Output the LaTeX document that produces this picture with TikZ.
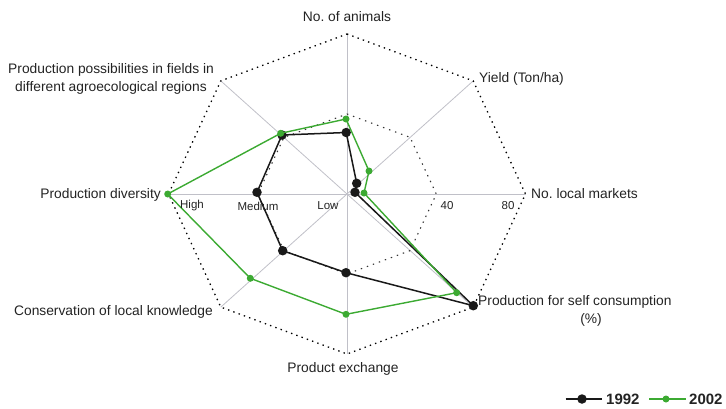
\documentclass[tikz,border=0pt]{standalone}
\usepackage{fontspec}
\setmainfont{Liberation Sans}
\frenchspacing
\definecolor{axisgray}{RGB}{192,192,200}
\definecolor{sergreen}{RGB}{60,170,50}
\definecolor{txt}{RGB}{35,35,35}
\begin{document}
\begin{tikzpicture}[x=1pt,y=-1pt,
  axisline/.style={draw=axisgray,line width=0.8pt},
  outergrid/.style={draw=black,line width=1.3pt,dash pattern=on 1.4pt off 4.2pt},
  innergrid/.style={draw=black!80,line width=1.1pt,dash pattern=on 1.4pt off 5pt},
  lbl/.style={font=\fontsize{13.8}{16}\selectfont,text=txt,inner sep=0pt},
  scl/.style={font=\fontsize{11.5}{14}\selectfont,text=txt,inner sep=0pt},
  leg/.style={font=\fontsize{15}{17}\selectfont\bfseries,text=txt,inner sep=0pt,anchor=west},
  blackser/.style={draw=black!90,line width=1.5pt,line join=round},
  greenser/.style={draw=sergreen,line width=1.4pt,line join=round},
  bdot/.style={circle,fill=black!90,inner sep=0pt,minimum size=9.5pt},
  gdot/.style={circle,fill=sergreen,inner sep=0pt,minimum size=7pt}
]
\useasboundingbox (0,0) rectangle (726,408);
% center and axis ends
\coordinate (C) at (347,194);
\coordinate (A1) at (347,34);
\coordinate (A2) at (473.2,80.9);
\coordinate (A3) at (525.5,194);
\coordinate (A4) at (473.2,307.1);
\coordinate (A5) at (347,354);
\coordinate (A6) at (220.8,307.1);
\coordinate (A7) at (168.5,194);
\coordinate (A8) at (220.8,80.9);
% half-radius points
\coordinate (H1) at (347,114);
\coordinate (H2) at (410.1,137.4);
\coordinate (H3) at (436.3,194);
\coordinate (H4) at (410.1,250.6);
\coordinate (H5) at (347,274);
\coordinate (H6) at (283.9,250.6);
\coordinate (H7) at (257.8,194);
\coordinate (H8) at (283.9,137.4);
% axes
\foreach \i in {1,...,8} \draw[axisline] (C) -- (A\i);
% grid polygons
\draw[outergrid] (A1) -- (A2) -- (A3) -- (A4) -- (A5) -- (A6) -- (A7) -- (A8) -- cycle;
\draw[innergrid] (H1) -- (H2) -- (H3) -- (H4) -- (H5) -- (H6) -- (H7) -- (H8) -- cycle;
% data 1992
\coordinate (b1) at (346.2,132.5);
\coordinate (b2) at (356.7,183.3);
\coordinate (b3) at (355,192.3);
\coordinate (b4) at (473.3,305.7);
\coordinate (b5) at (346,272.7);
\coordinate (b6) at (282.7,250.7);
\coordinate (b7) at (257,192.3);
\coordinate (b8) at (282,135);
% data 2002
\coordinate (g1) at (346,119);
\coordinate (g2) at (369,171);
\coordinate (g3) at (364,193);
\coordinate (g4) at (456.7,292.7);
\coordinate (g5) at (346,314.3);
\coordinate (g6) at (250.3,278.3);
\coordinate (g7) at (167.7,194);
\coordinate (g8) at (280.7,133.3);
\draw[blackser] (b1) -- (b2) -- (b3) -- (b4) -- (b5) -- (b6) -- (b7) -- (b8) -- cycle;
\foreach \i in {1,...,8} \node[bdot] (B\i) at (b\i) {};
\draw[greenser] (g1) -- (g2) -- (g3) -- (g4) -- (g5) -- (g6) -- (g7) -- (g8) -- cycle;
\foreach \i in {1,...,8} \node[gdot] (G\i) at (g\i) {};
% axis labels
\node[lbl] (l1) at (347,17) {No. of animals};
\node[lbl,anchor=west] (l2) at (479,79) {Yield (Ton/ha)};
\node[lbl,anchor=west] (l3) at (531,194) {No. local markets};
\node[lbl,anchor=west] (l4) at (478,301.5) {Production for self consumption};
\node[lbl] (l4b) at (591,320) {(\%)};
\node[lbl] (l5) at (343,369) {Product exchange};
\node[lbl,anchor=east] (l6) at (213,311.5) {Conservation of local knowledge};
\node[lbl,anchor=east] (l7) at (161,195) {Production diversity};
\node[lbl,align=center,font=\fontsize{13.8}{17.7}\selectfont] (l8) at (111,79) {Production possibilities in fields in\\different agroecological regions};
% scale labels
\node[scl] (s1) at (192,206) {High};
\node[scl] (s2) at (258,206) {Medium};
\node[scl] (s3) at (328,206) {Low};
\node[scl] (s4) at (447,206) {40};
\node[scl] (s5) at (508,206) {80};
% legend
\coordinate (k1a) at (565.5,399);
\coordinate (k1b) at (601.5,399);
\coordinate (k2a) at (649,399);
\coordinate (k2b) at (686,399);
\draw[blackser] (k1a) -- (k1b);
\node[bdot] (K1) at (582,399) {};
\node[leg] (t1) at (606,399) {1992};
\draw[greenser] (k2a) -- (k2b);
\node[gdot] (K2) at (666,399) {};
\node[leg] (t2) at (689,399) {2002};
\end{tikzpicture}
\end{document}
